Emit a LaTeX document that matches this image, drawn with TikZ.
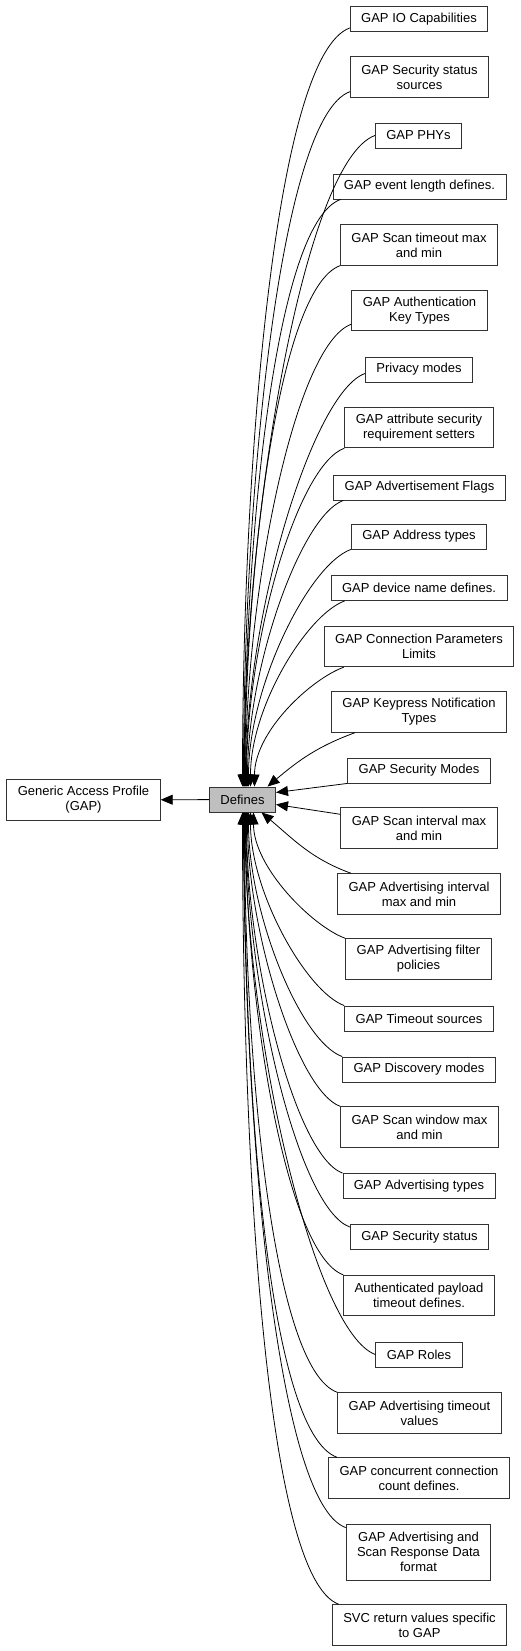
\documentclass[tikz,border=0pt]{standalone}
\usepackage{fontspec}
\newfontfamily\dxfont{Liberation Sans}
\usetikzlibrary{arrows.meta}
\tikzset{
  grp/.style={draw=black!80, fill=white, line width=0.9pt, font=\dxfont\fontsize{13}{15}\selectfont,
    align=center, inner xsep=11pt, inner ysep=0pt, minimum height=25pt},
  grptwo/.style={grp, minimum height=40.5pt},
  grpthree/.style={grp, minimum height=56pt},
  cur/.style={grp, fill=black!25},
  dep/.style={-{Triangle[length=12pt,width=10pt]}, line width=0.8pt},
  toup/.style 2 args={out=200, in=90, out distance=#1, in distance=#2},
  todown/.style 2 args={out=160, in=270, out distance=#1, in distance=#2},
}
\begin{document}
\begin{tikzpicture}[x=1pt, y=1pt]
  \useasboundingbox (0,0) rectangle (520,-1651);
  % current group and its parent
  \node[cur] (def) at (242.5,-799.5) {Defines};
  \node[grptwo] (gap) at (83.5,-800) {Generic Access Profile\\(GAP)};
  % member groups
  \node[grp] (io) at (419,-19) {GAP IO Capabilities};
  \node[grptwo] (secsrc) at (419.5,-77) {GAP Security status\\sources};
  \node[grp] (phys) at (418.5,-135.5) {GAP PHYs};
  \node[grp] (evtlen) at (419.5,-186.5) {GAP event length defines.};
  \node[grptwo] (scanto) at (419,-245) {GAP Scan timeout max\\and min};
  \node[grptwo] (authkey) at (419.5,-310.5) {GAP Authentication\\Key Types};
  \node[grp] (privacy) at (419,-369.5) {Privacy modes};
  \node[grptwo] (attrsec) at (419,-427.5) {GAP attribute security\\requirement setters};
  \node[grp] (advflags) at (419.5,-487.5) {GAP Advertisement Flags};
  \node[grp] (addr) at (419,-536.5) {GAP Address types};
  \node[grp] (devname) at (419,-588) {GAP device name defines.};
  \node[grptwo] (connlim) at (419,-646.5) {GAP Connection Parameters\\Limits};
  \node[grptwo] (keypress) at (419,-712) {GAP Keypress Notification\\Types};
  \node[grp] (secmodes) at (419,-770.5) {GAP Security Modes};
  \node[grptwo] (scanint) at (419,-828) {GAP Scan interval max\\and min};
  \node[grptwo] (advint) at (419,-894) {GAP Advertising interval\\max and min};
  \node[grptwo] (advfilt) at (418.5,-959) {GAP Advertising filter\\policies};
  \node[grp] (tmosrc) at (419,-1018.5) {GAP Timeout sources};
  \node[grp] (disc) at (419,-1069.5) {GAP Discovery modes};
  \node[grptwo] (scanwin) at (419.5,-1127) {GAP Scan window max\\and min};
  \node[grp] (advtypes) at (419,-1186) {GAP Advertising types};
  \node[grp] (secstat) at (419.5,-1237) {GAP Security status};
  \node[grptwo] (authpl) at (419,-1295.5) {Authenticated payload\\timeout defines.};
  \node[grp] (roles) at (419,-1354.5) {GAP Roles};
  \node[grptwo] (advto) at (419.5,-1413) {GAP Advertising timeout\\values};
  \node[grptwo] (conccnt) at (419,-1478) {GAP concurrent connection\\count defines.};
  \node[grpthree] (advdata) at (418.5,-1552) {GAP Advertising and\\Scan Response Data\\format};
  \node[grptwo] (svc) at (419.5,-1625) {SVC return values specific\\to GAP};
  % edges
  \draw[dep] (def) -- (gap);
  \draw[dep] ([yshift=4pt]io.south west) to[toup={80pt}{320pt}] (def.north);
  \draw[dep] ([yshift=6pt]secsrc.south west) to[toup={75pt}{290pt}] ([xshift=1pt]def.north);
  \draw[dep] (phys.west) to[toup={75pt}{270pt}] ([xshift=1.5pt]def.north);
  \draw[dep] ([xshift=8pt]evtlen.south west) to[toup={70pt}{245pt}] ([xshift=2pt]def.north);
  \draw[dep] (scanto.south west) to[toup={65pt}{220pt}] ([xshift=2.5pt]def.north);
  \draw[dep] ([yshift=7pt]authkey.south west) to[toup={60pt}{195pt}] ([xshift=3pt]def.north);
  \draw[dep] ([yshift=-4pt]privacy.west) to[toup={55pt}{175pt}] ([xshift=3.5pt]def.north);
  \draw[dep] (attrsec.south west) to[toup={50pt}{145pt}] ([xshift=4pt]def.north);
  \draw[dep] ([xshift=10pt]advflags.south west) to[toup={45pt}{120pt}] ([xshift=5pt]def.north);
  \draw[dep] (addr.south west) to[toup={45pt}{100pt}] ([xshift=6pt]def.north);
  \draw[dep] ([xshift=14pt]devname.south west) to[toup={40pt}{80pt}] ([xshift=8pt]def.north);
  \draw[dep] ([xshift=20pt]connlim.south west) to[toup={35pt}{55pt}] ([xshift=12pt]def.north);
  \draw[dep] ([xshift=24pt]keypress.south west) to[out=200, in=40] ([xshift=25pt]def.north);
  \draw[dep] (secmodes.south west) -- ([yshift=7pt]def.east);
  \draw[dep] ([yshift=-7pt]scanint.north west) -- ([yshift=-5pt]def.east);
  \draw[dep] ([xshift=14pt]advint.north west) to[out=160, in=-40] ([xshift=19pt]def.south);
  \draw[dep] (advfilt.north west) to[todown={35pt}{55pt}] ([xshift=11pt]def.south);
  \draw[dep] (tmosrc.north west) to[todown={40pt}{80pt}] ([xshift=8pt]def.south);
  \draw[dep] (disc.north west) to[todown={45pt}{100pt}] ([xshift=6pt]def.south);
  \draw[dep] (scanwin.north west) to[todown={45pt}{120pt}] ([xshift=5pt]def.south);
  \draw[dep] (advtypes.north west) to[todown={50pt}{150pt}] ([xshift=4pt]def.south);
  \draw[dep] ([yshift=-3pt]secstat.north west) to[todown={55pt}{175pt}] ([xshift=3.5pt]def.south);
  \draw[dep] (authpl.north west) to[todown={60pt}{195pt}] ([xshift=3pt]def.south);
  \draw[dep] (roles.west) to[todown={65pt}{225pt}] ([xshift=2.5pt]def.south);
  \draw[dep] (advto.north west) to[todown={70pt}{245pt}] ([xshift=2pt]def.south);
  \draw[dep] ([xshift=9pt]conccnt.north west) to[todown={75pt}{270pt}] ([xshift=1.5pt]def.south);
  \draw[dep] ([yshift=-4pt]advdata.north west) to[todown={75pt}{300pt}] ([xshift=1pt]def.south);
  \draw[dep] ([xshift=7pt]svc.north west) to[todown={80pt}{330pt}] (def.south);
\end{tikzpicture}
\end{document}
